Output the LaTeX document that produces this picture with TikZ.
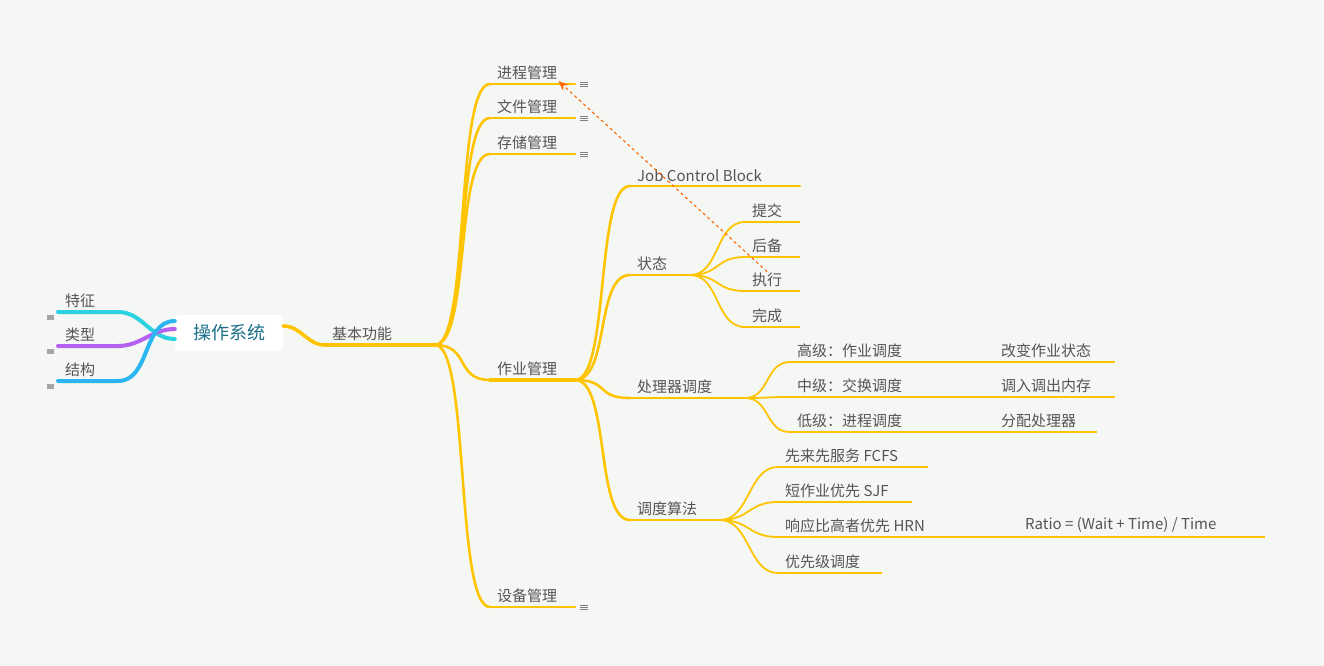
\documentclass[tikz,border=0pt]{standalone}
\usepackage{fontspec}
\setmainfont{Noto Sans CJK SC}
\usetikzlibrary{arrows.meta}
\definecolor{bgc}{HTML}{F5F7F4}
\definecolor{yel}{HTML}{FFC400}
\definecolor{txt}{HTML}{555555}
\definecolor{cya}{HTML}{2AD2E2}
\definecolor{pur}{HTML}{B660F0}
\definecolor{blu}{HTML}{2BB6F2}
\definecolor{rootc}{HTML}{1A6F8A}
\tikzset{
  lbl/.style={text=txt, font=\fontsize{15}{15}\selectfont, inner sep=1pt, anchor=south west},
  trunk/.style={draw=yel, line width=3.6pt, line cap=round},
  twig/.style={draw=yel, line width=2.6pt, line cap=round},
  leafline/.style={draw=yel, line width=1.8pt},
  more/.style={draw=gray, line width=0.6pt}
}
% \leaf{name}{x start}{x end}{y}{text}{style}
\newcommand{\leaf}[6]{%
  \coordinate (#1-s) at (#2,#4);
  \coordinate (#1-e) at (#3,#4);
  \draw[#6] (#1-s) -- (#1-e);
  \node[lbl] (#1) at ([xshift=6pt,yshift=3pt]#1-s) {#5};
}
\newcommand{\moreicon}[1]{%
  \foreach \d in {-2,0,2} {\draw[more] ([xshift=5pt,yshift=\d pt]#1) -- ++(8,0);}%
}
\begin{document}
\begin{tikzpicture}[x=1pt,y=-1pt]
  \fill[bgc] (0,0) rectangle (1324,666);
  \useasboundingbox (0,0) rectangle (1324,666);

  % root
  \node[fill=white, rounded corners=3pt, text=rootc, font=\fontsize{18}{18}\selectfont,
        minimum width=108pt, minimum height=36pt] (root) at (229,333) {操作系统};

  % left side
  \foreach \nm/\y/\dy/\col/\t in {tz/312/-6/cya/特征, lx/346/4/pur/类型, jg/381/12/blu/结构} {
    \coordinate (\nm-s) at (58,\y);
    \coordinate (\nm-e) at (118,\y);
    \draw[draw=\col, line width=4pt, line cap=round] ([yshift=\dy pt]root.west) to[out=180,in=0] (\nm-e) -- (\nm-s);
    \node[lbl, anchor=south west] (\nm) at ([xshift=6pt,yshift=3pt]\nm-s) {\t};
    \fill[gray!70] ([xshift=-11pt,yshift=-2.5pt]\nm-s) rectangle ++(7,5);
  }

  % main branch
  \leaf{jbgn}{325}{435}{345}{基本功能}{trunk}
  \draw[trunk] ([yshift=7pt]root.east) to[out=0,in=180] (jbgn-s);

  \leaf{jc}{490}{575}{84}{进程管理}{twig}
  \leaf{wj}{490}{575}{118}{文件管理}{twig}
  \leaf{cc}{490}{575}{154}{存储管理}{twig}
  \leaf{zy}{490}{575}{380}{作业管理}{trunk}
  \leaf{sb}{490}{575}{607}{设备管理}{twig}
  \foreach \c in {jc,wj,cc,zy,sb}
    {\draw[twig] (jbgn-e) .. controls +(35,0) and +(-35,0) .. (\c-s);}
  \foreach \c in {jc,wj,cc,sb} {\moreicon{\c-e}}

  % 作业管理
  \leaf{jcb}{630}{800}{186}{Job Control Block}{twig}
  \leaf{zt}{630}{690}{275}{状态}{twig}
  \leaf{clq}{630}{745}{398}{处理器调度}{twig}
  \leaf{ddsf}{630}{720}{520}{调度算法}{twig}
  \foreach \c in {jcb,zt,clq,ddsf}
    {\draw[twig] (zy-e) .. controls +(35,0) and +(-35,0) .. (\c-s);}

  % 状态
  \leaf{tj}{745}{800}{222}{提交}{leafline}
  \leaf{hb}{745}{800}{257}{后备}{leafline}
  \leaf{zx}{745}{800}{291}{执行}{leafline}
  \leaf{wc}{745}{800}{327}{完成}{leafline}
  \foreach \c in {tj,hb,zx,wc}
    {\draw[leafline] (zt-e) .. controls +(30,0) and +(-30,0) .. (\c-s);}

  % 处理器调度
  \leaf{gj}{790}{935}{362}{高级：作业调度}{leafline}
  \leaf{zj}{790}{935}{397}{中级：交换调度}{leafline}
  \leaf{dj}{790}{935}{432}{低级：进程调度}{leafline}
  \foreach \c in {gj,zj,dj}
    {\draw[leafline] (clq-e) .. controls +(25,0) and +(-25,0) .. (\c-s);}
  \leaf{gbzt}{994}{1115}{362}{改变作业状态}{leafline}
  \leaf{drdc}{994}{1115}{397}{调入调出内存}{leafline}
  \leaf{fp}{994}{1097}{432}{分配处理器}{leafline}
  \draw[leafline] (gj-e) -- (gbzt-s);
  \draw[leafline] (zj-e) -- (drdc-s);
  \draw[leafline] (dj-e) -- (fp-s);

  % 调度算法
  \leaf{fcfs}{778}{928}{467}{先来先服务 FCFS}{leafline}
  \leaf{sjf}{778}{912}{502}{短作业优先 SJF}{leafline}
  \leaf{hrn}{778}{958}{537}{响应比高者优先 HRN}{leafline}
  \leaf{yxj}{778}{882}{573}{优先级调度}{leafline}
  \foreach \c in {fcfs,sjf,hrn,yxj}
    {\draw[leafline] (ddsf-e) .. controls +(30,0) and +(-30,0) .. (\c-s);}
  \leaf{ratio}{1018}{1265}{537}{Ratio = (Wait + Time) / Time}{leafline}
  \draw[leafline] (hrn-e) -- (ratio-s);

  % relation
  \draw[draw=orange!80!red, line width=1.1pt, dashed, -{Stealth[length=10pt,width=8pt]}]
    (zx.north) -- (jc.south east);
\end{tikzpicture}
\end{document}
